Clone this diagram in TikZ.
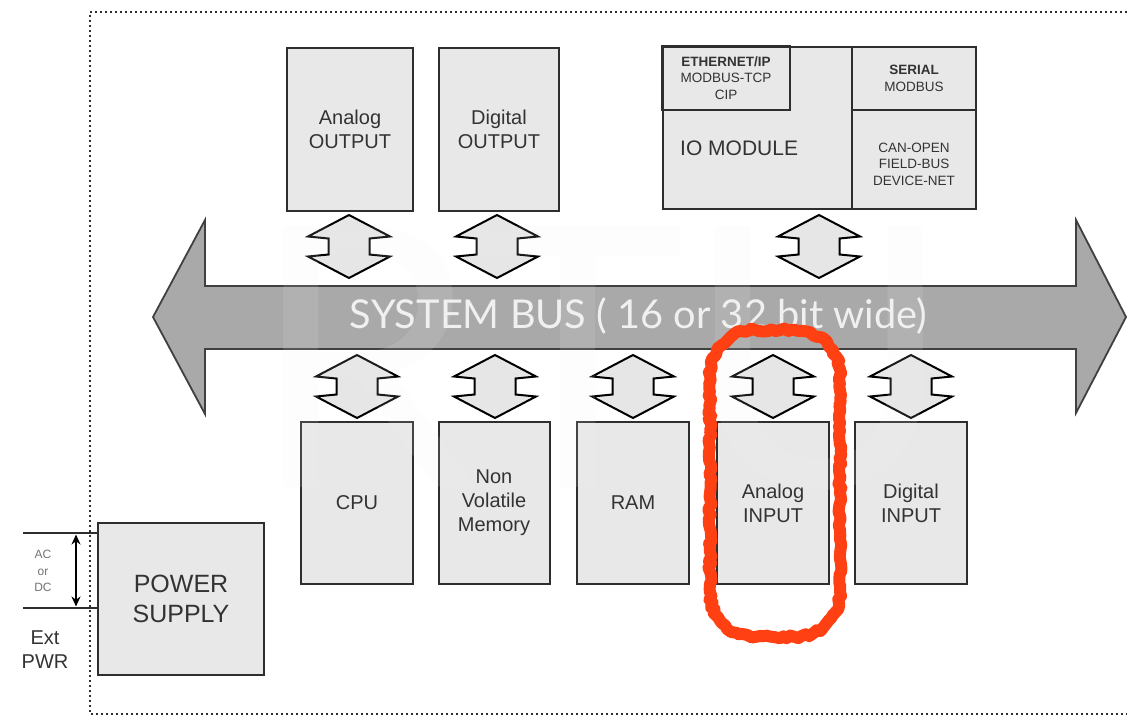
\documentclass[tikz,border=0pt]{standalone}
\usepackage{fontspec}
\usepackage{graphicx}
\setmainfont{Liberation Sans}
\newfontfamily\busfont{Lato}
\usetikzlibrary{arrows.meta,decorations.pathmorphing}
\definecolor{boxfill}{HTML}{E8E8E8}
\definecolor{boxline}{HTML}{2E2E2E}
\definecolor{arrfill}{HTML}{E6E6E6}
\definecolor{busfill}{HTML}{A9A9A9}
\definecolor{busline}{HTML}{404040}
\definecolor{txt}{HTML}{333333}
\definecolor{redmark}{RGB}{255,64,18}
\definecolor{wmark}{HTML}{F2F2F2}
\tikzset{
  box/.style={draw=boxline, fill=boxfill, line width=2pt, inner sep=0pt, align=center, text=txt, font=\fontsize{20}{24}\selectfont},
  small/.style={text=txt, align=center, inner sep=0pt, font=\fontsize{13.5}{16.5}\selectfont},
  dbl/.pic={\draw[line width=2pt, draw=black, fill=arrfill, line join=miter]
    (0,-31.5) -- (41,-10) -- (20.5,-8) -- (20.5,8) -- (41,10) -- (0,31.5)
    -- (-41,10) -- (-20.5,8) -- (-20.5,-8) -- (-41,-10) -- cycle;},
  border/.style={draw=boxline, line width=2pt, dash pattern=on 2pt off 3pt},
}
\begin{document}
\begin{tikzpicture}[x=1pt,y=-1pt]
\useasboundingbox[fill=white] (0,0) rectangle (1127,717);

% dotted enclosure
\draw[border] (1127,12) -- (90,12) -- (90,714) -- (1127,714);

% system bus
\draw[fill=busfill, draw=busline, line width=1.8pt, line join=miter]
  (153,317) -- (205,220) -- (205,286) -- (1076,286) -- (1076,220) -- (1126,317)
  -- (1076,413) -- (1076,349) -- (205,349) -- (205,414) -- cycle;
\node[anchor=base, inner sep=0pt, text=white!94!black] (bus) at (638.5,328)
  {\resizebox{577pt}{!}{\busfont\fontsize{37}{40}\selectfont SYSTEM BUS ( 16 or 32 bit wide)}};

% top modules
\node[box, minimum width=126pt, minimum height=163pt] (ao) at (350,129.5) {Analog\\OUTPUT};
\node[box, minimum width=120pt, minimum height=163pt] (do) at (499,129.5) {Digital\\OUTPUT};
\node[box, minimum width=313pt, minimum height=161pt] (io) at (819.5,128) {};
\draw[draw=boxline, line width=2pt] (io.north west) rectangle (790,110);
\draw[draw=boxline, line width=2pt] (852,47.5) -- (852,208.5);
\draw[draw=boxline, line width=2pt] (852,110) -- (976,110);
\node[small] (eth) at (726,78)
  {\textbf{ETHERNET/IP}\\MODBUS-TCP\\CIP};
\node[small] (ser) at (914,78.5) {\textbf{SERIAL}\\MODBUS};
\node[small] (can) at (914,164) {CAN-OPEN\\FIELD-BUS\\DEVICE-NET};
\node[anchor=west, inner sep=0pt, text=txt, font=\fontsize{21}{24}\selectfont] (iol) at (680,148) {IO MODULE};

% bottom modules
\node[box, minimum width=112pt, minimum height=162pt] (cpu) at (357,503) {CPU};
\node[box, minimum width=111pt, minimum height=162pt] (nvm) at (494,503) {Non\\Volatile\\Memory};
\node[box, minimum width=112pt, minimum height=162pt] (ram) at (633,503) {RAM};
\node[box, minimum width=112pt, minimum height=162pt] (ai) at (773,503) {Analog\\INPUT};
\node[box, minimum width=112pt, minimum height=162pt] (di) at (911,503) {Digital\\INPUT};

% double arrows to the bus
\pic at (349,246.5) {dbl};
\pic at (497,246.5) {dbl};
\pic at (819,246.5) {dbl};
\pic at (357,386.5) {dbl};
\pic at (495,386.5) {dbl};
\pic at (633,386.5) {dbl};
\pic at (773,386.5) {dbl};
\pic at (911,386.5) {dbl};

% power supply
\node[box, minimum width=166pt, minimum height=152pt, font=\fontsize{25}{30}\selectfont] (ps) at (181,599) {POWER\\SUPPLY};
\coordinate (l1) at (23,533);
\coordinate (l2) at (23,608);
\draw[draw=boxline, line width=2.6pt] (l1) -- (l1 -| ps.west);
\draw[draw=boxline, line width=2.6pt] (l2) -- (l2 -| ps.west);
\coordinate (a1) at (76,534.5);
\coordinate (a2) at (76,606.5);
\draw[line width=2.2pt, {Stealth[length=10pt,width=9pt]}-{Stealth[length=10pt,width=9pt]}] (a1) -- (a2);
\node[inner sep=0pt, align=center, text=black!55, font=\fontsize{12}{16.5}\selectfont] (acdc) at (43,571) {AC\\or\\DC};
\node[inner sep=0pt, align=center, text=txt, font=\fontsize{20}{24}\selectfont] (ext) at (45,650) {Ext\\PWR};

% faint watermark
\node[anchor=base west, inner sep=0pt, text=wmark, opacity=0.12, font=\busfont\fontsize{364}{364}\selectfont] (rtu) at (250,487) {RTU};

% red hand-drawn highlight
\draw[redmark, line width=12pt, line join=round, decorate,
      decoration={random steps, segment length=4pt, amplitude=1.6pt}]
  (710,375) arc (180:270:45) -- (795,330) arc (270:360:45) -- (840,592)
  arc (0:90:45) -- (755,637) arc (90:180:45) -- cycle;
\end{tikzpicture}
\end{document}
